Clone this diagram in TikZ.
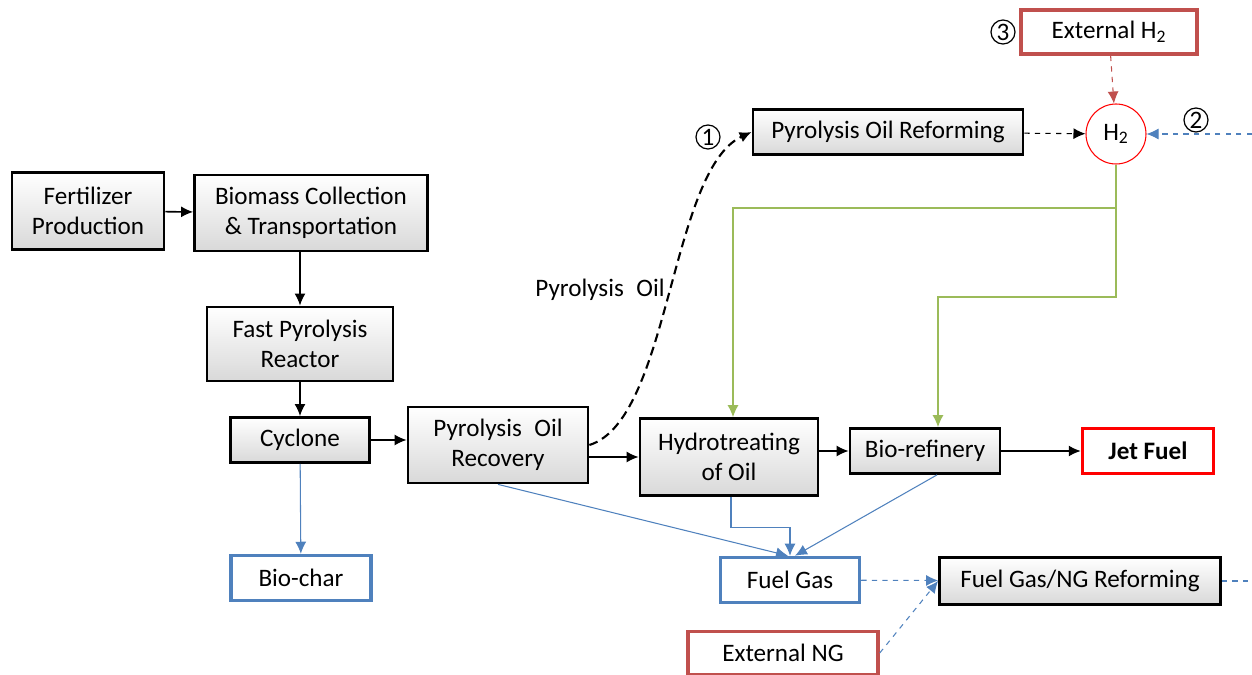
\documentclass[tikz,border=0pt]{standalone}
\usepackage{fontspec}
\setmainfont{Carlito}
\usepackage{tikz}
\usetikzlibrary{arrows.meta}
\definecolor{stblue}{RGB}{79,129,189}
\definecolor{stred}{RGB}{192,80,77}
\definecolor{stgreen}{RGB}{155,187,89}

\begin{document}
\begin{tikzpicture}[x=0.02cm,y=-0.02cm]
\tikzset{edge/.style = {-{Latex[length=2.4mm,width=2.2mm]}, line width=0.9pt}}
\tikzset{proc/.style = {draw, line width=1.6pt, top color=white, bottom color=gray!30, align=center, inner sep=0pt}}
\tikzset{blueout/.style = {draw=stblue, line width=2pt, fill=white, align=center, inner sep=0pt}}
\tikzset{redout/.style = {draw=stred, line width=2pt, fill=white, align=center, inner sep=0pt}}
\tikzset{bline/.style = {-{Latex[length=2.4mm,width=2.2mm]}, draw=stblue, line width=0.6pt}}
\tikzset{gline/.style = {-{Latex[length=2.4mm,width=2.2mm]}, draw=stgreen, line width=0.6pt}}
\tikzset{num/.style = {draw, circle, line width=0.7pt, minimum size=0.48cm, inner sep=0pt}}
\tikzstyle{every node}=[font=\fontsize{14.3}{17}\selectfont]
\useasboundingbox (0,0) rectangle (1252,675);
% main chain
\node [proc, minimum width=3.04cm, minimum height=1.54cm] at (88,211)(fert) {Fertilizer\\Production};
\node [proc, minimum width=4.66cm, minimum height=1.52cm] at (311,213)(biomass) {Biomass Collection\\\& Transportation};
\node [proc, minimum width=3.72cm, minimum height=1.48cm] at (300,344)(reactor) {Fast Pyrolysis\\Reactor};
\node [proc, minimum width=2.78cm, minimum height=0.9cm] at (300,440)(cyclone) {Cyclone};
\node [proc, minimum width=3.6cm, minimum height=1.52cm] at (498,445)(recovery) {Pyrolysis\enspace Oil\\Recovery};
\node [proc, minimum width=3.56cm, minimum height=1.54cm] at (729,457)(hydro) {Hydrotreating\\of Oil};
\node [proc, minimum width=3.0cm, minimum height=0.9cm] at (925,451)(bioref) {Bio-refinery};
\node [draw=red, line width=2pt, fill=white, minimum width=2.62cm, minimum height=0.9cm, font=\fontsize{14.3}{17}\selectfont\bfseries] at (1148,451)(jet) {Jet Fuel};
% by-products
\node [blueout, minimum width=2.8cm, minimum height=0.9cm] at (301,578)(biochar) {Bio-char};
\node [blueout, minimum width=2.78cm, minimum height=0.9cm] at (790,580)(fuelgas) {Fuel Gas};
\node [proc, minimum width=5.62cm, minimum height=0.94cm] at (1080,581)(fgreform) {Fuel Gas/NG Reforming};
\node [redout, minimum width=3.8cm, minimum height=0.86cm] at (783,653)(extng) {External NG};
% hydrogen
\node [proc, minimum width=5.4cm, minimum height=0.9cm] at (888,132)(poreform) {Pyrolysis Oil Reforming};
\node [draw=red, circle, line width=0.6pt, minimum size=1.2cm, inner sep=0pt] at (1116,134)(h2) {H\textsubscript{2}};
\node [redout, minimum width=3.52cm, minimum height=0.88cm] at (1109,32)(exth2) {External H\textsubscript{2}};
\node [num] at (708,137)(n1) {1};
\node [num] at (1196,120)(n2) {2};
\node [num] at (1003,32)(n3) {3};
\node at (600,290)(oillabel) {Pyrolysis\enspace Oil};
\coordinate (gsplit) at (1116,208);
\coordinate (gbend) at (1116,297);
\coordinate (h2in) at (1252,134);
\coordinate (fgout) at (1252,581);
% connectors
\draw [edge] (fert) -- (biomass);
\draw [edge] (reactor.north |- biomass.south) -- (reactor);
\draw [edge] (reactor) -- (cyclone);
\draw [edge] (cyclone) -- (recovery.west |- cyclone);
\draw [edge] (recovery.east |- hydro.west) -- (hydro.west);
\draw [edge] (hydro.east |- bioref.west) -- (bioref.west);
\draw [edge] (bioref) -- (jet);
\draw [edge, dash pattern=on 5pt off 3pt, line width=1.2pt] (recovery.east) .. controls (670,420) and (670,170) .. (poreform.west);
\draw [edge, dashed, line width=0.6pt] (poreform) -- (h2);
\draw [edge, dashed, draw=stred, line width=0.6pt] (exth2) -- (h2);
\draw [bline, dashed] (h2in) -- (h2);
\draw [gline, -] (h2) -- (gsplit);
\draw [gline] (gsplit) -| ([xshift=0.08cm]hydro.north);
\draw [gline] (gsplit) -- (gbend) -| ([xshift=0.26cm]bioref.north);
\draw [bline] (cyclone) -- (biochar);
\draw [bline] (recovery.south) -- ([xshift=-0.04cm]fuelgas.north);
\draw [bline] ([xshift=0.04cm]hydro.south) -- ++(0,31) -| (fuelgas.north);
\draw [bline] ([xshift=0.24cm]bioref.south) -- ([xshift=0.1cm]fuelgas.north);
\draw [bline, dashed] (fuelgas) -- (fgreform);
\draw [bline, dashed] (extng.east) -- (fgreform.west);
\draw [draw=stblue, dashed, line width=0.6pt] (fgreform) -- (fgout);
\end{tikzpicture}
\end{document}
